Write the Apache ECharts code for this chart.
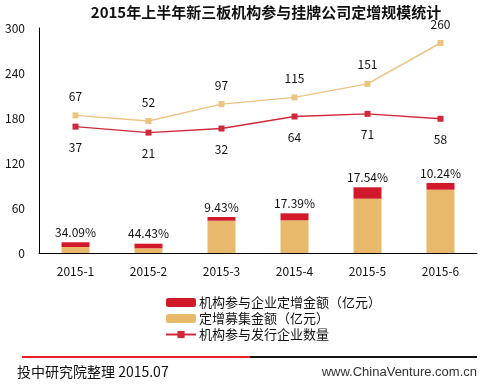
<!DOCTYPE html>
<html>
<head>
<meta charset="utf-8">
<script src="https://cdn.jsdelivr.net/npm/echarts@6/dist/echarts.min.js"></script>
<style>html,body{margin:0;padding:0;background:#fff}#c{width:482px;height:385px}</style>
</head>
<body>
<div id="c"></div>
<script>
var categories = ['2015-1','2015-2','2015-3','2015-4','2015-5','2015-6'];
var raisedAmount = [8, 6.3, 43, 43.6, 72.4, 84.4];          // 定增募集金额（亿元）
var instAmount = [6.3, 6.1, 5, 9.3, 15.2, 8.9];             // 机构参与企业定增金额（亿元）
var instShare = ['34.09%','44.43%','9.43%','17.39%','17.54%','10.24%'];
var issuerCount = [67, 52, 97, 115, 151, 260];              // 发行企业数量
var instIssuerCount = [37, 21, 32, 64, 71, 58];             // 机构参与发行企业数量
var yTicks = [0, 60, 120, 180, 240, 300];

var FONT = '"Noto Sans CJK SC", "Liberation Sans", sans-serif';
var TAN = '#E8B96B', RED = '#D2192B', TANLINE = '#EDC382', REDLINE = '#D1283A';

var chart = echarts.init(document.getElementById('c'));
chart.setOption({
  backgroundColor: '#fff',
  animation: false,
  textStyle: { fontFamily: FONT },
  title: {
    text: '2015年上半年新三板机构参与挂牌公司定增规模统计',
    left: 261, top: 0, textAlign: 'center',
    textStyle: { fontSize: 15, fontWeight: 'bold', color: '#111', fontFamily: FONT }
  },
  legend: {
    orient: 'vertical', left: 160, top: 291,
    itemWidth: 30, itemHeight: 9, itemGap: 3,
    data: ['机构参与企业定增金额（亿元）', '定增募集金额（亿元）', '机构参与发行企业数量'],
    textStyle: { fontSize: 13, color: '#111', fontFamily: FONT, padding: [0,0,0,-2] }
  },
  grid: { left: 39, right: 5, top: 28, bottom: 132, containLabel: false },
  xAxis: {
    type: 'category', data: categories,
    axisLine: { lineStyle: { color: '#000', width: 1 } },
    axisTick: { show: false },
    axisLabel: { fontSize: 12, color: '#111', margin: 12 }
  },
  yAxis: [{
    type: 'value', min: 0, max: 300, interval: 60,
    axisLine: { show: true, lineStyle: { color: '#000', width: 1 } },
    axisTick: { show: false },
    splitLine: { show: false },
    axisLabel: { fontSize: 12, color: '#111', margin: 14,
      formatter: function (v) { return yTicks.indexOf(v) >= 0 ? String(v) : ''; } }
  }, {
    type: 'value', min: -300, max: 300, show: false, splitLine: { show: false }
  }],
  series: [{
    name: '定增募集金额（亿元）', type: 'bar', stack: 'amt', data: raisedAmount,
    barWidth: 28, itemStyle: { color: TAN }
  }, {
    name: '机构参与企业定增金额（亿元）', type: 'bar', stack: 'amt', data: instAmount,
    barWidth: 28, itemStyle: { color: RED },
    label: { show: true, position: 'top', distance: 4, fontSize: 12, color: '#111',
      formatter: function (p) { return instShare[p.dataIndex]; } }
  }, {
    name: '发行企业数量', type: 'line', yAxisIndex: 1, data: issuerCount,
    symbol: 'rect', symbolSize: 6, lineStyle: { color: TANLINE, width: 1.5 },
    itemStyle: { color: TANLINE },
    label: { show: true, position: 'top', distance: 10, fontSize: 12, color: '#111' }
  }, {
    name: '机构参与发行企业数量', type: 'line', yAxisIndex: 1, data: instIssuerCount,
    symbol: 'rect', symbolSize: 6, lineStyle: { color: REDLINE, width: 1.5 },
    itemStyle: { color: REDLINE },
    label: { show: true, position: 'bottom', distance: 12, fontSize: 12, color: '#111' }
  }],
  graphic: [
    { id: 'ruleBlack', type: 'line', z: 50, shape: { x1: 22, y1: 357, x2: 477, y2: 357 }, style: { stroke: 'rgb(20,20,20)', lineWidth: 2 } },
    { id: 'ruleRed', type: 'rect', z: 60, shape: { x: 22, y: 356, width: 228, height: 2 }, style: { fill: '#E8202A' } },
    { id: 'src', type: 'text', x: 17, y: 365, style: { text: '投中研究院整理 2015.07', fill: '#111', font: '14px ' + FONT } },
    { id: 'web', type: 'text', x: 477, y: 366, style: { text: 'www.ChinaVenture.com.cn', fill: '#333', align: 'right', font: '13px "Liberation Sans", sans-serif' } }
  ]
});
</script>
</body>
</html>
